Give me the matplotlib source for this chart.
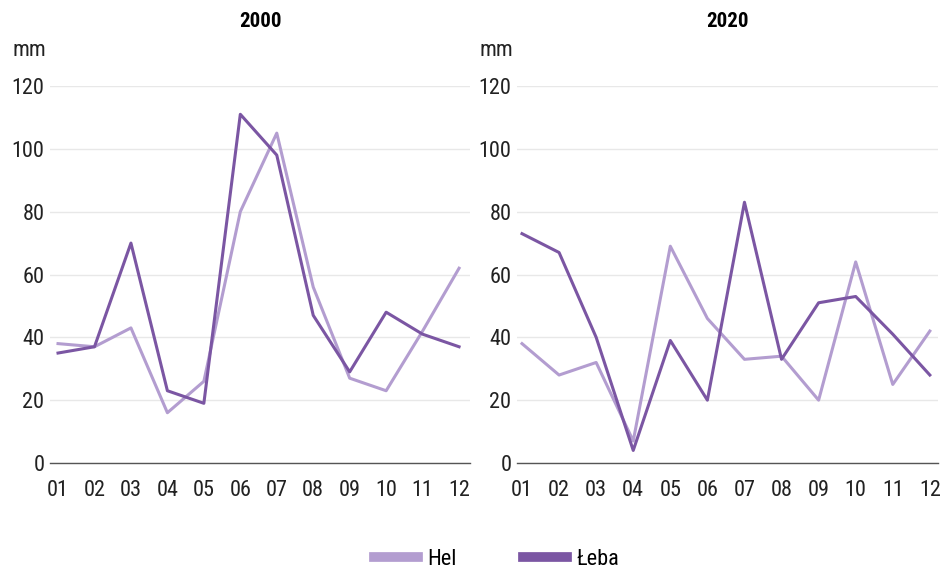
import matplotlib
matplotlib.use("Agg")
import matplotlib.pyplot as plt

plt.rcParams['font.family'] = ['Liberation Sans Narrow', 'Roboto Condensed',
                               'Open Sans Condensed', 'Liberation Sans', 'DejaVu Sans']

months = ["01", "02", "03", "04", "05", "06", "07", "08", "09", "10", "11", "12"]
years = ["2000", "2020"]
hel_2000 = [38, 37, 43, 16, 26, 80, 105, 56, 27, 23, 42, 62]
leba_2000 = [35, 37, 70, 23, 19, 111, 98, 47, 29, 48, 41, 37]
hel_2020 = [38, 28, 32, 7, 69, 46, 33, 34, 20, 64, 25, 42]
leba_2020 = [73, 67, 40, 4, 39, 20, 83, 33, 51, 53, 41, 28]

hel_color = "#b39dd0"
leba_color = "#7b56a3"

fig = plt.figure(figsize=(9.4, 5.72), dpi=100)
boxes = [[50/940, 109/572, 420/940, 377/572],
         [517/940, 109/572, 421/940, 377/572]]
xlims = [(-0.22, 11.3), (-0.135, 11.22)]
series = [(hel_2000, leba_2000), (hel_2020, leba_2020)]

x = list(range(len(months)))
for i, year in enumerate(years):
    ax = fig.add_axes(boxes[i])
    hel, leba = series[i]
    ax.plot(x, hel, color=hel_color, lw=2.2, label="Hel", clip_on=False)
    ax.plot(x, leba, color=leba_color, lw=2.2, label="Łeba", clip_on=False)
    ax.set_ylim(0, 120)
    ax.set_xlim(*xlims[i])
    ax.set_yticks([0, 20, 40, 60, 80, 100, 120])
    ax.set_xticks(x)
    ax.set_xticklabels(months)
    ax.tick_params(length=0, labelsize=16, colors="#222222")
    ax.tick_params(axis="x", pad=12)
    ax.tick_params(axis="y", pad=4)
    ax.grid(axis="y", color="#e8e8e8", lw=1)
    ax.set_axisbelow(True)
    for s in ["top", "right", "left"]:
        ax.spines[s].set_visible(False)
    ax.spines["bottom"].set_color("#555555")
    ax.spines["bottom"].set_linewidth(1)
    ax.text(0.5, 1.17, year, transform=ax.transAxes, fontsize=15,
            fontweight="bold", ha="center", va="center")
    ax.text(-0.09, 1.095, "mm", transform=ax.transAxes, fontsize=16,
            color="#222222", ha="left", va="center")

handles, labels = ax.get_legend_handles_labels()
fig.legend(handles, labels, loc="center", bbox_to_anchor=(0.528, 0.022),
           ncol=2, frameon=False, fontsize=16, handlelength=2.0,
           columnspacing=3.0, handletextpad=0.4)
for h in fig.legends[0].get_lines():
    h.set_linewidth(7)

fig.savefig("out.png", dpi=100)
